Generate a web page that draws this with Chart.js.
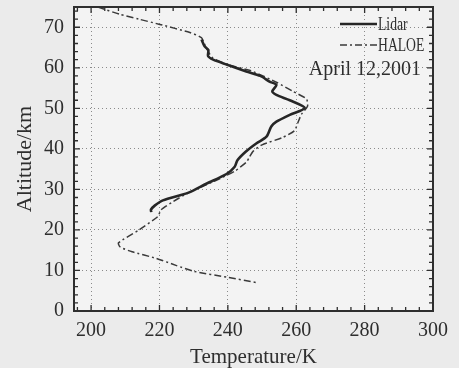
<!DOCTYPE html>
<html>
<head>
<meta charset="utf-8">
<script src="https://cdn.jsdelivr.net/npm/chart.js@4/dist/chart.umd.min.js"></script>
<style>
  html, body { margin: 0; padding: 0; background: #ebebeb; }
  #wrap { width: 459px; height: 368px; }
</style>
</head>
<body>
<div id="wrap"><canvas id="myChart"></canvas></div>
<script>
// lidar profile (temperature K, altitude km)
const lidarT = [232.3, 233.2, 234.3, 234.2, 235.7, 239.6, 245.4, 249.5, 252.2, 254.2, 253.0, 254.2, 258.1, 262.5,
                258.1, 254.2, 252.7, 251.3, 248.4, 245.2, 242.8, 242.0, 239.6, 233.7, 228.5, 221.0, 218.6, 217.5, 217.6]
const lidarZ = [67.0, 65.3, 64.4, 62.9, 62.0, 60.8, 59.1, 58.0, 56.6, 55.8, 54.2, 53.3, 52.0, 50.1,
                48.4, 46.7, 45.5, 43.0, 41.4, 39.3, 37.2, 35.6, 33.8, 31.4, 29.2, 27.3, 26.0, 25.0, 24.4]

// HALOE profile
const haloeT = [202.0, 208.4, 214.0, 220.1, 228.9, 232.3, 233.6, 235.5, 240.0, 247.0, 254.5, 259.0, 263.0, 263.3,
                261.5, 260.5, 259.5, 256.0, 250.0, 247.5, 246.3, 245.5, 242.0, 236.0, 229.0, 224.0, 220.5, 219.5,
                214.0, 208.0, 208.5, 212.0, 219.0, 225.0, 230.0, 240.0, 248.4]
const haloeZ = [75.0, 73.2, 72.0, 70.7, 68.7, 67.4, 65.0, 62.5, 60.8, 59.2, 56.3, 54.2, 52.3, 50.5,
                48.5, 46.5, 44.5, 42.8, 41.0, 39.5, 38.0, 36.8, 34.5, 32.0, 29.4, 27.0, 25.0, 23.3,
                20.0, 16.8, 15.8, 14.6, 13.0, 11.2, 9.8, 8.3, 7.0]

const xMajor = [200, 220, 240, 260, 280, 300]
const yMajor = [0, 10, 20, 30, 40, 50, 60, 70]
const dateLabel = 'April 12,2001'

const pts = (xs, ys) => xs.map((v, i) => ({ x: v, y: ys[i] }))

const serif = '"Liberation Serif", "DejaVu Serif", serif'
const ink = '#2e2e2e'

// frame, inward ticks, legend and date text
const decor = {
    id: 'decor',
    beforeDraw(chart) {
        const a = chart.chartArea
        const ctx = chart.ctx
        ctx.save()
        ctx.fillStyle = '#f3f3f3'
        ctx.fillRect(a.left, a.top, a.right - a.left, a.bottom - a.top)
        ctx.restore()
    },
    afterDraw(chart) {
        const a = chart.chartArea
        const ctx = chart.ctx
        const xs = chart.scales.x
        const ys = chart.scales.y
        ctx.save()
        ctx.strokeStyle = ink
        ctx.lineWidth = 1.3
        ctx.beginPath()
        xs.ticks.forEach(t => {
            const p = xs.getPixelForValue(t.value)
            const len = xMajor.includes(t.value) ? 6 : 4
            ctx.moveTo(p, a.bottom); ctx.lineTo(p, a.bottom - len)
            ctx.moveTo(p, a.top); ctx.lineTo(p, a.top + len)
        })
        ys.ticks.forEach(t => {
            const p = ys.getPixelForValue(t.value)
            const len = yMajor.includes(t.value) ? 6 : 4
            ctx.moveTo(a.left, p); ctx.lineTo(a.left + len, p)
            ctx.moveTo(a.right, p); ctx.lineTo(a.right - len, p)
        })
        ctx.stroke()
        ctx.lineWidth = 2
        ctx.strokeRect(a.left, a.top, a.right - a.left, a.bottom - a.top)

        // legend
        const rows = [17, 38]
        chart.data.datasets.forEach((ds, i) => {
            const y = a.top + rows[i]
            ctx.strokeStyle = ds.borderColor
            ctx.lineWidth = ds.borderWidth
            ctx.setLineDash(ds.borderDash || [])
            ctx.beginPath()
            ctx.moveTo(a.right - 93, y)
            ctx.lineTo(a.right - 56, y)
            ctx.stroke()
            ctx.setLineDash([])
            ctx.save()
            ctx.translate(a.right - 55, y)
            ctx.scale(0.72, 1)
            ctx.fillStyle = ink
            ctx.font = '19px ' + serif
            ctx.textBaseline = 'middle'
            ctx.fillText(ds.label, 0, 1)
            ctx.restore()
        })
        ctx.fillStyle = ink
        ctx.font = '20px ' + serif
        ctx.textAlign = 'right'
        ctx.textBaseline = 'middle'
        ctx.fillText(dateLabel, a.right - 12, a.top + 63)
        ctx.restore()
    }
}

const ctx = document.getElementById('myChart')

new Chart(ctx, {
    type: 'scatter',
    data: {
        datasets: [{
            label: 'Lidar',
            data: pts(lidarT, lidarZ),
            showLine: true,
            borderColor: '#262626',
            borderWidth: 2.6,
            pointRadius: 0,
            tension: 0.25
        }, {
            label: 'HALOE',
            data: pts(haloeT, haloeZ),
            showLine: true,
            borderColor: '#3a3a3a',
            borderWidth: 1.5,
            borderDash: [7, 3, 2, 3],
            pointRadius: 0,
            tension: 0.2
        }]
    },
    options: {
        responsive: true,
        maintainAspectRatio: false,
        animation: false,
        layout: { padding: { top: 7, right: 26, bottom: 0, left: 0 } },
        plugins: {
            legend: { display: false },
            tooltip: { enabled: false }
        },
        scales: {
            x: {
                type: 'linear',
                min: 195,
                max: 300,
                afterBuildTicks: s => {
                    s.ticks = []
                    for (let v = 196; v <= 300; v += 4) s.ticks.push({ value: v })
                },
                afterFit: s => { s.height = 57 },
                ticks: {
                    autoSkip: false,
                    maxRotation: 0,
                    padding: 8,
                    color: ink,
                    font: { family: serif, size: 20 },
                    callback: v => xMajor.includes(v) ? String(v) : ''
                },
                grid: {
                    drawTicks: false,
                    color: c => (c.tick && xMajor.includes(c.tick.value) && c.tick.value < 300) ? '#8a8a8a' : 'rgba(0,0,0,0)',
                    lineWidth: 1
                },
                border: { display: false, dash: [1, 3] },
                title: {
                    display: true,
                    text: 'Temperature/K',
                    color: ink,
                    font: { family: serif, size: 21, lineHeight: 1 },
                    padding: 0
                }
            },
            y: {
                type: 'linear',
                min: 0,
                max: 75,
                afterBuildTicks: s => {
                    s.ticks = []
                    for (let v = 0; v <= 74; v += 2) s.ticks.push({ value: v })
                },
                afterFit: s => { s.width = 74; s.paddingTop = 0; s.paddingBottom = 0 },
                ticks: {
                    autoSkip: false,
                    padding: 10,
                    color: ink,
                    font: { family: serif, size: 20 },
                    callback: v => yMajor.includes(v) ? String(v) : ''
                },
                grid: {
                    drawTicks: false,
                    color: c => (c.tick && yMajor.includes(c.tick.value) && c.tick.value > 0) ? '#8a8a8a' : 'rgba(0,0,0,0)',
                    lineWidth: 1
                },
                border: { display: false, dash: [1, 3] },
                title: {
                    display: true,
                    text: 'Altitude/km',
                    color: ink,
                    font: { family: serif, size: 22 },
                    padding: { top: 12, bottom: 0 }
                }
            }
        }
    },
    plugins: [decor]
})
</script>
</body>
</html>
